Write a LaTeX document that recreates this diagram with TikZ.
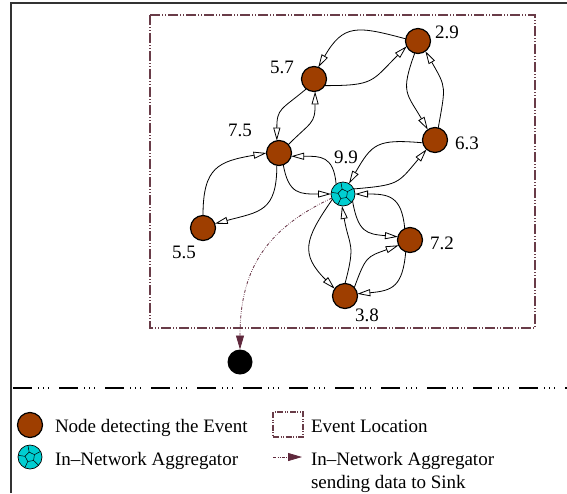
\documentclass[tikz,border=0pt]{standalone}
\usepackage{fontspec}
\setmainfont{Liberation Serif}
\usetikzlibrary{arrows.meta,shapes}
\definecolor{evbrown}{RGB}{158,62,0}
\definecolor{aggcyan}{RGB}{0,206,209}
\definecolor{evbox}{RGB}{105,60,72}
\definecolor{sinkline}{RGB}{95,40,60}

\begin{document}
\begin{tikzpicture}[x=1pt,y=1pt,every node/.style={outer sep=0pt},
  evnode/.style={circle,draw=black,line width=1.2pt,fill=evbrown,minimum size=25pt,inner sep=0pt},
  aggnode/.style={circle,draw=black,line width=0.7pt,fill=aggcyan,minimum size=24pt,inner sep=0pt,
    path picture={
      \draw[line width=0.5pt,shift={(path picture bounding box.center)}]
        (100:5pt) -- (172:5pt) -- (244:5pt) -- (316:5pt) -- (28:5pt) -- cycle;
      \foreach \a in {100,172,244,316,28}
        \draw[line width=0.5pt,shift={(path picture bounding box.center)}] (\a:5pt) -- (\a:14pt);
    }},
  sinknode/.style={circle,fill=black,minimum size=25pt,inner sep=0pt},
  lbl/.style={font=\fontsize{19}{23}\selectfont,inner sep=0pt},
  link/.style={line width=0.8pt,looseness=1.4,-{Triangle[open,length=13pt,width=7pt]}},
  tosink/.style={sinkline,line width=0.8pt,dash pattern=on 3pt off 1.5pt on 0.6pt off 1.5pt on 0.6pt off 1.5pt,
    -{Triangle[length=14pt,width=8pt]}},
  evarea/.style={evbox,line width=1.5pt,dash pattern=on 10pt off 2pt on 1pt off 2pt on 1pt off 2pt}]
\useasboundingbox (0,0) rectangle (567,-493);

% frame and event area
\draw[line width=2pt,black!80] (11,-493) -- (11,-3) -- (567,-3);
\draw[evarea] (150,-15) rectangle (535,-328);

% nodes detecting the event
\node[evnode] (n29) at (418,-41) {};
\node[evnode] (n57) at (314,-79) {};
\node[evnode] (n75) at (279,-153) {};
\node[evnode] (n63) at (435,-140) {};
\node[evnode] (n55) at (203,-228) {};
\node[evnode] (n72) at (410,-240) {};
\node[evnode] (n38) at (345,-296) {};
\node[aggnode] (agg) at (343,-194) {};
\node[sinknode] (sink) at (240,-362) {};

% readings
\node[lbl] (l29) at (447,-32) {2.9};
\node[lbl] (l57) at (282,-67) {5.7};
\node[lbl] (l75) at (240,-130) {7.5};
\node[lbl] (l63) at (467,-143) {6.3};
\node[lbl] (l99) at (346,-157) {9.9};
\node[lbl] (l55) at (184,-252) {5.5};
\node[lbl] (l72) at (442,-243) {7.2};
\node[lbl] (l38) at (367,-315) {3.8};

% exchanges
\draw[link] (n29.170) to[out=165,in=60] (n57.70);
\draw[link] (n57.-32) to[out=0,in=225] (n29.205);
\draw[link] (n29.255) to[out=250,in=120] (n63.125);
\draw[link] (n63.75) to[out=80,in=-60] (n29.306);
\draw[link] (n57.232) to[out=220,in=90] (n75.100);
\draw[link] (n75.42) to[out=45,in=-90] (n57.275);
\draw[link] (n55.90) to[out=90,in=190] (n75.180);
\draw[link] (n75.260) to[out=-90,in=15] (n55.20);
\draw[link] (n75.290) to[out=-80,in=180] (agg.180);
\draw[link] (agg.125) to[out=95,in=0] (n75.-15);
\draw[link] (n63.193) to[out=175,in=60] (agg.60);
\draw[link] (agg.25) to[out=5,in=230] (n63.228);
\draw[link] (n72.115) to[out=95,in=0] (agg.0);
\draw[link] (agg.-37) to[out=-80,in=175] (n72.165);
\draw[link] (n72.-110) to[out=-95,in=5] (n38.10);
\draw[link] (n38.42) to[out=70,in=200] (n72.205);
\draw[link] (agg.207) to[out=235,in=135] (n38.145);
\draw[link] (n38.90) to[out=75,in=-80] (agg.-95);

% to the sink
\draw[tosink] (agg.200) to[out=205,in=90,looseness=1.1] (sink.north);

% legend
\draw[line width=1.5pt,dash pattern=on 19pt off 6pt on 1pt off 4pt on 1pt off 4pt on 1pt off 10pt] (13,-388) -- (567,-388);
\node[evnode] (legev) at (30,-425) {};
\node[lbl,anchor=base west] (legevtxt) at (55,-432) {Node detecting the Event};
\node[aggnode] (legagg) at (30,-457) {};
\node[lbl,anchor=base west] (legaggtxt) at (55,-465) {In--Network Aggregator};
\draw[evarea,line width=1.2pt,dash pattern=on 6pt off 1.5pt on 1pt off 1.5pt on 1pt off 1.5pt] (273,-412) rectangle (303,-437);
\node[lbl,anchor=base west] (legboxtxt) at (311,-432) {Event Location};
\coordinate (legarr0) at (273,-457);
\coordinate (legarr1) at (302,-457);
\draw[tosink] (legarr0) -- (legarr1);
\node[lbl,anchor=base west] (legsinktxt) at (311,-465) {In--Network Aggregator};
\node[lbl,anchor=base west] (legsinktxt2) at (311,-488) {sending data to Sink};
\end{tikzpicture}
\end{document}
